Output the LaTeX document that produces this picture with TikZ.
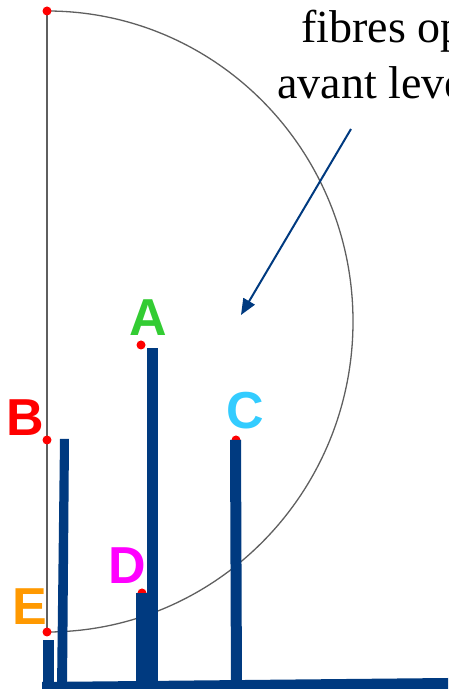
\documentclass[tikz,border=0pt]{standalone}
\usepackage{fontspec}
\setmainfont{Liberation Serif}[Ligatures=NoCommon]
\newfontfamily\labfont{Liberation Sans}
\usetikzlibrary{arrows.meta}
\definecolor{barblue}{RGB}{0,58,128}
\definecolor{lblA}{RGB}{51,204,51}
\definecolor{lblB}{RGB}{255,0,0}
\definecolor{lblC}{RGB}{51,204,255}
\definecolor{lblD}{RGB}{255,0,255}
\definecolor{lblE}{RGB}{255,153,0}
\definecolor{arcgray}{RGB}{95,95,95}
\tikzset{
  reddot/.style={circle,fill=red,inner sep=0pt,minimum size=9pt},
  bar/.style={fill=barblue,draw=none},
  guide/.style={draw=arcgray,line width=1.3pt},
  letter/.style={inner sep=0pt,font=\labfont\bfseries\fontsize{52}{52}\selectfont},
  caption/.style={inner sep=0pt,anchor=base west,font=\fontsize{46}{55}\selectfont},
  pointer/.style={draw=barblue,line width=2pt,-{Triangle[length=16pt,width=13pt]}}
}
\begin{document}
\begin{tikzpicture}[x=1pt,y=1pt]
\useasboundingbox (0,0) rectangle (448,689);
\clip (0,0) rectangle (448,689);
% guide: vertical line and half ellipse
\draw[guide] (47,57) -- (47,678);
\draw[guide] (47,678) arc[start angle=90,end angle=-90,x radius=306pt,y radius=310.5pt];
% red points
\node[reddot] (top) at (47,678) {};
\node[reddot] (pB) at (47,249) {};
\node[reddot] (pE) at (47,57) {};
\node[reddot] (pA) at (141,344) {};
\node[reddot] (pC) at (236,249) {};
\node[reddot] (pD) at (142,96) {};
% bars
\fill[bar] (43,0) rectangle (54,49);
\fill[bar] (60,250) -- (69,250) -- (67,0) -- (57,0) -- cycle;
\fill[bar] (147,0) rectangle (158,341);
\fill[bar] (136,0) rectangle (158,96);
\fill[bar] (230,249) -- (241,249) -- (242,0) -- (231,0) -- cycle;
\fill[bar] (42,0) -- (42,7) -- (448,11) -- (448,0) -- cycle;
% letters
\node[letter,text=lblA] (A) at (148,371) {A};
\node[letter,text=lblB] (B) at (25,271) {B};
\node[letter,text=lblC] (C) at (245,278) {C};
\node[letter,text=lblD] (D) at (127,123) {D};
\node[letter,text=lblE] (E) at (30,82) {E};
% caption and arrow
\node[caption] (cap1) at (301,646) {fibres optiques};
\node[caption] (cap2) at (277,590) {avant levée};
\coordinate (arrS) at (351,560);
\coordinate (arrT) at (241,374);
\draw[pointer] (arrS) -- (arrT);
\end{tikzpicture}
\end{document}
